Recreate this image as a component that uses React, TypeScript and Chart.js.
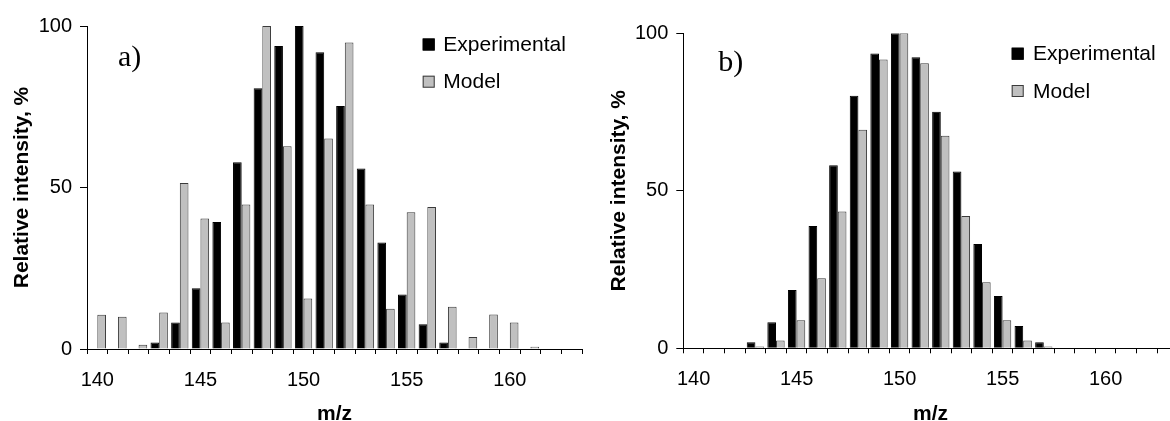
import React, { useEffect, useRef } from "react";
import { Chart, registerables } from "chart.js";

Chart.register(...registerables);

// ---------- data ----------
const CATEGORIES = [140, 141, 142, 143, 144, 145, 146, 147, 148, 149, 150, 151, 152, 153, 154, 155, 156, 157, 158, 159, 160, 161, 162, 163];
const X_TICK_LABELS = [140, 145, 150, 155, 160];
const Y_TICKS = [0, 50, 100];

const A_EXPERIMENTAL = [0, 0, 0, 2.0, 8.2, 18.8, 39.3, 57.8, 80.7, 93.8, 100, 91.9, 75.2, 55.9, 33.0, 16.9, 7.7, 2.0, 0, 0, 0, 0, 0, 0];
const A_MODEL = [10.6, 10.0, 1.3, 11.3, 51.4, 40.4, 8.2, 44.7, 100, 62.8, 15.6, 65.2, 94.9, 44.7, 12.5, 42.3, 44.0, 13.1, 3.7, 10.7, 8.2, 0.7, 0, 0];

const B_EXPERIMENTAL = [0, 0, 0, 1.9, 8.3, 18.5, 38.8, 58.1, 80.2, 93.6, 100, 92.4, 75.1, 56.1, 33.1, 16.6, 7.1, 1.9, 0, 0, 0, 0, 0, 0];
const B_MODEL = [0, 0, 0, 0.6, 2.5, 8.9, 22.2, 43.4, 69.4, 91.7, 100, 90.5, 67.5, 42.0, 21.0, 8.9, 2.5, 0.6, 0, 0, 0, 0, 0, 0];

const SERIES_NAMES = ["Experimental", "Model"];
const PANEL_LABELS = ["a)", "b)"];
const X_TITLE = "m/z";
const Y_TITLE = "Relative intensity, %";

// ---------- style ----------
const SANS = '"Liberation Sans", Arial, Helvetica, sans-serif';
const SERIF = '"Liberation Serif", "Times New Roman", serif';
const BLACK = "#000000";
const GREY = "#c0c0c0";
const GREY_BORDER = "#3a3a3a";

const decorPlugin = {
  id: "panelDecor",
  afterDraw(chart: any, _args: any, opts: any) {
    const ctx = chart.ctx;
    const area = chart.chartArea;
    ctx.save();
    // panel label
    ctx.font = `${opts.labelSize}px ${SERIF}`;
    ctx.fillStyle = "#000";
    ctx.textBaseline = "alphabetic";
    ctx.textAlign = "left";
    ctx.fillText(opts.label, area.left + opts.labelDx, area.top + opts.labelDy);
    // legend
    ctx.font = `21px ${SANS}`;
    ctx.textBaseline = "middle";
    chart.data.datasets.forEach((ds: any, i: number) => {
      const y = area.top + opts.legendDy + i * opts.legendGap;
      const x = area.right - opts.legendDx;
      ctx.fillStyle = ds.backgroundColor;
      ctx.fillRect(x, y - 6, 12, 12);
      ctx.strokeStyle = ds.borderColor;
      ctx.lineWidth = 1;
      ctx.strokeRect(x + 0.5, y - 5.5, 11, 11);
      ctx.fillStyle = "#000";
      ctx.fillText(ds.label, x + opts.textDx, y + 1);
    });
    ctx.restore();
  },
};

type PanelSpec = {
  exp: number[];
  model: number[];
  label: string;
  left: number;
  width: number;
  height: number;
  padding: { left: number; top: number; right: number; bottom: number };
  yWidth: number;
  xHeight: number;
  yTitlePad: number;
  decor: any;
};

function Panel({ spec }: { spec: PanelSpec }) {
  const ref = useRef<HTMLCanvasElement>(null);
  useEffect(() => {
    const chart = new Chart(ref.current as HTMLCanvasElement, {
      type: "bar",
      data: {
        labels: CATEGORIES.map(String),
        datasets: [
          {
            label: SERIES_NAMES[0],
            data: spec.exp,
            backgroundColor: BLACK,
            borderColor: BLACK,
            borderWidth: 1,
            categoryPercentage: 0.84,
            barPercentage: 1.0,
          },
          {
            label: SERIES_NAMES[1],
            data: spec.model,
            backgroundColor: GREY,
            borderColor: GREY_BORDER,
            borderWidth: 1,
            categoryPercentage: 0.84,
            barPercentage: 1.0,
          },
        ],
      },
      options: {
        animation: false,
        responsive: false,
        devicePixelRatio: 1,
        layout: { padding: spec.padding },
        plugins: {
          legend: { display: false },
          tooltip: { enabled: false },
          panelDecor: spec.decor,
        } as any,
        scales: {
          x: {
            type: "category",
            offset: true,
            grid: {
              display: true,
              drawOnChartArea: false,
              drawTicks: true,
              tickLength: 5,
              offset: true,
              color: "#000",
              lineWidth: 1,
            },
            border: { display: true, color: "#000", width: 1 },
            ticks: {
              autoSkip: false,
              maxRotation: 0,
              minRotation: 0,
              padding: 14,
              color: "#000",
              font: { family: SANS, size: 20 },
              callback: (_v: any, index: number) =>
                X_TICK_LABELS.includes(CATEGORIES[index]) ? String(CATEGORIES[index]) : "",
            },
            title: {
              display: true,
              text: X_TITLE,
              color: "#000",
              font: { family: SANS, size: 21, weight: "bold" },
              padding: { top: 0, bottom: 13.4 },
            },
            afterFit: (s: any) => {
              s.height = spec.xHeight;
            },
          },
          y: {
            type: "linear",
            min: 0,
            max: 100,
            afterBuildTicks: (s: any) => {
              s.ticks = Y_TICKS.map((v) => ({ value: v }));
            },
            grid: {
              display: true,
              drawOnChartArea: false,
              drawTicks: true,
              tickLength: 7,
              color: "#000",
              lineWidth: 1,
            },
            border: { display: true, color: "#000", width: 1 },
            ticks: {
              padding: 8,
              color: "#000",
              font: { family: SANS, size: 20 },
            },
            title: {
              display: true,
              text: Y_TITLE,
              color: "#000",
              font: { family: SANS, size: 21, weight: "bold" },
              padding: { top: spec.yTitlePad, bottom: 0 },
            },
            afterFit: (s: any) => {
              s.width = spec.yWidth;
            },
          },
        },
      } as any,
      plugins: [decorPlugin as any],
    });
    return () => chart.destroy();
  }, []);
  return (
    <canvas
      ref={ref}
      width={spec.width}
      height={spec.height}
      style={{ position: "absolute", left: spec.left, top: 0, width: spec.width, height: spec.height }}
    />
  );
}

const PANEL_A: PanelSpec = {
  exp: A_EXPERIMENTAL,
  model: A_MODEL,
  label: PANEL_LABELS[0],
  left: 0,
  width: 590,
  height: 440,
  padding: { left: 0, top: 26, right: 8, bottom: 0 },
  yWidth: 87,
  xHeight: 91,
  yTitlePad: 9.4,
  decor: { label: PANEL_LABELS[0], labelSize: 30, labelDx: 31, labelDy: 40, legendDx: 159.3, legendDy: 18.5, legendGap: 37.2, textDx: 20.6 },
};

const PANEL_B: PanelSpec = {
  exp: B_EXPERIMENTAL,
  model: B_MODEL,
  label: PANEL_LABELS[1],
  left: 590,
  width: 600,
  height: 440,
  padding: { left: 0, top: 33.3, right: 12.3, bottom: 0 },
  yWidth: 93.3,
  xHeight: 91.7,
  yTitlePad: 16.4,
  decor: { label: PANEL_LABELS[1], labelSize: 30, labelDx: 35, labelDy: 38, legendDx: 166, legendDy: 20.4, legendGap: 37.3, textDx: 21.3 },
};

export default function App() {
  return (
    <div
      style={{
        position: "absolute",
        left: 0,
        top: 0,
        width: 1170,
        height: 421,
        overflow: "hidden",
        background: "#fff",
      }}
    >
      <Panel spec={PANEL_A} />
      <Panel spec={PANEL_B} />
    </div>
  );
}
